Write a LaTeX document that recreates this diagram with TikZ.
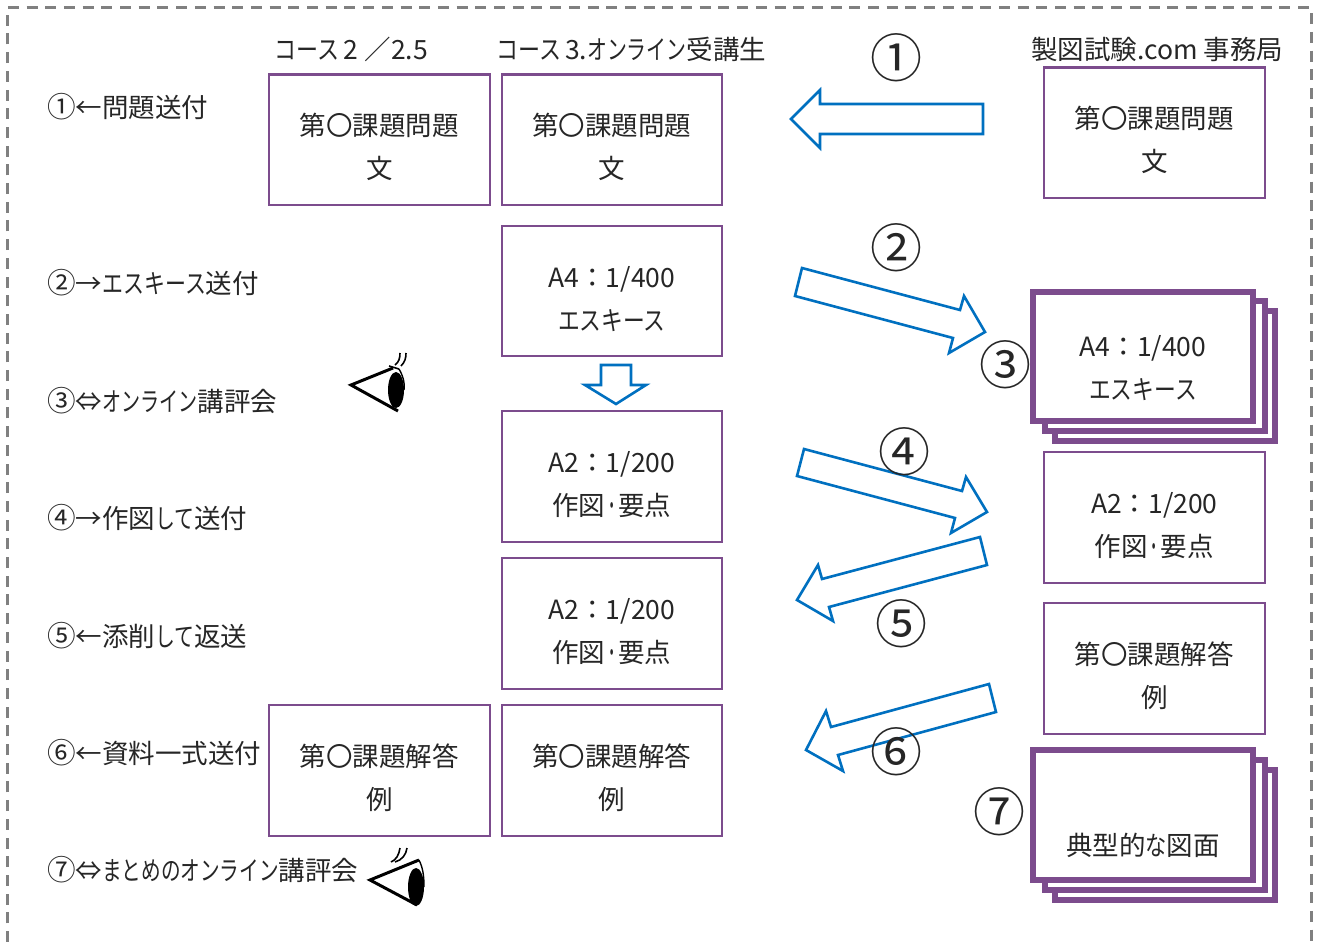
\documentclass[tikz,border=0pt]{standalone}
\usepackage{fontspec}
\setmainfont{Noto Sans CJK JP}
\definecolor{pur}{RGB}{124,76,141}
\definecolor{blu}{RGB}{0,112,192}
\definecolor{txt}{RGB}{38,38,38}
\definecolor{dashgray}{RGB}{128,128,128}
\newcommand{\kn}[2][.75]{\scalebox{#1}[1]{#2}}
\newcommand{\cn}[1]{\scalebox{1.08}{#1}}
\newcommand{\zuten}{作図\kn[.5]{・}要点}
\newcommand{\fl}{\rule{0pt}{37pt}}
\newcommand{\flt}{\rule{0pt}{45pt}}
\tikzset{x=1pt,y=-1pt,
 box/.style={draw=pur,line width=2.2pt,fill=white,minimum width=220.5pt,minimum height=130.5pt,inner sep=0pt,anchor=north west,align=center,text=txt,font=\fontsize{26.5}{43}\selectfont},
 thickbox/.style={box,line width=6pt,minimum width=220pt,minimum height=129.5pt},
 arr/.style={draw=blu,line width=2.6pt,fill=white,line join=miter},
 lab/.style={anchor=west,inner sep=0pt,text=txt,font=\fontsize{26.5}{30}\selectfont},
 num/.style={inner sep=0pt,text=txt,font=\fontsize{52}{56}\selectfont},
 eyeln/.style={draw=black,line width=3pt,line join=miter,fill=none},
 lash/.style={draw=black,line width=1.6pt}
}
\begin{document}
\begin{tikzpicture}
\useasboundingbox (0,0) rectangle (1317,942);
\fill[white] (0,0) rectangle (1317,942);
\draw[draw=dashgray,line width=3pt,dash pattern=on 11pt off 7.7pt] (7.3,942) -- (7.3,7.5) -- (1311,7.5) -- (1311,942);

% captions
\node[lab] (c1) at (274,49) {\kn[.83]{コース}\hspace{4pt}2\hspace{7pt}／2.5};
\node[lab] (c2) at (496,49) {\kn[.83]{コース}\hspace{4pt}3.\kn{オンライン}受講生};
\node[lab] (c3) at (1031,49) {製図試験.com 事務局};

% left labels
\node[lab] (l1) at (47,107) {\cn{①}←問題送付};
\node[lab] (l2) at (47,283) {\cn{②}→\kn[.79]{エスキース}送付};
\node[lab] (l3) at (47,401) {\cn{③}⇔\kn[.72]{オンライン}講評会};
\node[lab] (l4) at (47,518) {\cn{④}→作図\kn{して}送付};
\node[lab] (l5) at (47,636) {\cn{⑤}←添削\kn{して}返送};
\node[lab] (l6) at (47,753) {\cn{⑥}←資料一式送付};
\node[lab] (l7) at (47,870) {\cn{⑦}⇔\kn[.74]{まとめのオンライン}講評会};

% boxes, left columns
\node[box] (b1) at (268,73.5) {\fl 第〇課題問題\\文};
\node[box] (b2) at (500.5,73.5) {\fl 第〇課題問題\\文};
\node[box] (b3) at (500.5,224.5) {\fl A4：1/400\\\kn[.82]{エスキース}};
\node[box] (b4) at (500.5,410) {\fl A2：1/200\\\zuten};
\node[box] (b5) at (500.5,557) {\fl A2：1/200\\\zuten};
\node[box] (b6) at (268,704) {\fl 第〇課題解答\\例};
\node[box] (b7) at (500.5,704) {\fl 第〇課題解答\\例};

% right column
\node[box] (r1) at (1043,66.5) {\fl 第〇課題問題\\文};
\node[thickbox] (r2c) at (1052,308) {};
\node[thickbox] (r2b) at (1042,298) {};
\node[thickbox] (r2) at (1030,288.5) {\flt A4：1/400\\\kn[.82]{エスキース}};
\node[box] (r3) at (1043,451) {\fl A2：1/200\\\zuten};
\node[box] (r4) at (1043,602) {\fl 第〇課題解答\\例};
\node[thickbox] (r5c) at (1052,767) {};
\node[thickbox] (r5b) at (1042,757) {};
\node[thickbox] (r5) at (1030,747) {};
\node[lab,anchor=center] (r5t) at (1143,845) {典型的\kn[.8]{な}図面};

% arrows
\draw[arr] (983,104) -- (820,104) -- (820,90) -- (791,119) -- (820,148) -- (820,134) -- (983,134) -- cycle;
\draw[arr] (601,365) -- (631,365) -- (631,385) -- (646,385) -- (616,404) -- (585,385) -- (601,385) -- cycle;
\draw[arr] (802,268) -- (960,310) -- (964,296) -- (985,332) -- (949,353) -- (953,338) -- (795,296) -- cycle;
\draw[arr] (804,449) -- (962,491) -- (966,477) -- (987,512) -- (951,533) -- (955,518) -- (797,476) -- cycle;
\draw[arr] (980,537) -- (822,579) -- (818,565) -- (797,600) -- (833,621) -- (829,607) -- (987,565) -- cycle;
\draw[arr] (989,684) -- (831,727) -- (826,711) -- (806,750) -- (843,771) -- (838,755) -- (996,712) -- cycle;

% numbers
\node[num] (n1) at (896,58) {①};
\node[num] (n2) at (896,248) {②};
\node[num] (n3) at (1005,365) {③};
\node[num] (n4) at (904,452) {④};
\node[num] (n5) at (901,624) {⑤};
\node[num] (n6) at (896,752) {⑥};
\node[num] (n7) at (999,812) {⑦};

% eye 1
\draw[eyeln] (393,368) -- (351,385) -- (398,411);
\fill[black] (396,390) ellipse [x radius=8pt,y radius=18pt];
\draw[lash] (389,366) -- (399,369);
\draw[lash] (395,365) .. controls (399,362) and (400,358) .. (400,353);
\draw[lash] (401,366) .. controls (405,362) and (406,358) .. (406,353);
\draw[black,line width=1.4pt] (399,369) .. controls (403,376) and (405,382) .. (404,390);
% eye 2
\draw[eyeln] (419,860) -- (370,880) -- (417,905);
\fill[black] (416,887) ellipse [x radius=8pt,y radius=19pt];
\draw[black,line width=1.4pt] (419,860) .. controls (423,868) and (424,876) .. (424,887);
\draw[lash] (391,862) .. controls (396,860) and (399,855) .. (400,848);
\draw[lash] (395,862) .. controls (402,860) and (406,855) .. (407,848);
\end{tikzpicture}
\end{document}
